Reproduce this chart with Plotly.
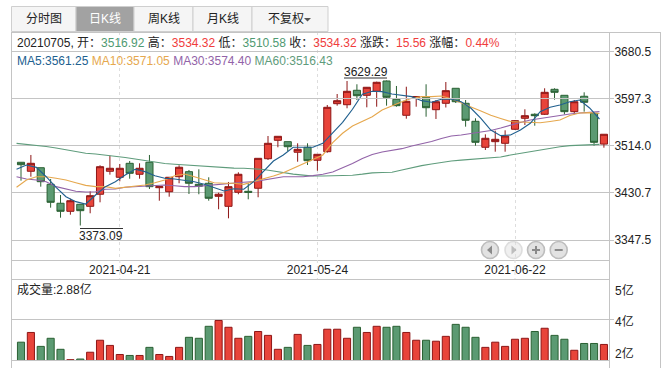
import plotly.graph_objects as go
from plotly.subplots import make_subplots

W, H = 672, 368

opens = [3484.8,3468.9,3475.2,3445.9,3412.4,3398.2,3410.6,3407,3428.3,3468.9,3458.3,3483,3463.6,3484.8,3439.9,3432.8,3459.3,3468.2,3445.9,3447.7,3424.7,3407,3431.8,3433.5,3438.9,3491.1,3523.6,3521.2,3502.5,3511.3,3488.3,3503.5,3588.3,3586.5,3612,3603.1,3610.2,3628.4,3596.1,3567.8,3599.6,3599.6,3577.7,3589,3615.5,3589,3557.2,3511.3,3521.2,3518.3,3543.1,3562.5,3569.6,3569.6,3613.7,3603.1,3574.2,3601.4,3571.3,3516.92]
highs = [3485.3,3497.7,3475.2,3455.3,3427,3420.5,3410.6,3433.5,3479.5,3496.5,3481.8,3487.1,3483,3497.7,3441.7,3458.3,3479.5,3471.2,3472.4,3458.3,3431.1,3450,3467.1,3447.7,3491.8,3531.2,3530.7,3521.2,3518.3,3518.3,3498.9,3586,3605.4,3628.4,3622.6,3617.8,3627.2,3629.29,3619.6,3618.3,3600.7,3622.6,3594.8,3626.6,3615.5,3594.8,3562.5,3534.2,3540.6,3541.3,3559.5,3578.4,3571.3,3615.5,3615.5,3603.1,3594.8,3608.4,3573.1,3534.32]
lows = [3452.3,3459.3,3441.7,3404.6,3386.9,3392.2,3373.09,3394.7,3414.1,3462.9,3451.2,3455.8,3455.8,3437.6,3416.9,3424,3447.7,3428.8,3428.3,3416.9,3401.8,3385.8,3428.3,3419.4,3423,3488.8,3511.3,3504.7,3485.8,3480,3469.9,3501.7,3584.8,3580.2,3594.8,3581.9,3583,3584.8,3583,3561.8,3583,3565.3,3561.3,3581.6,3589.5,3547.7,3514.1,3506.5,3503.5,3503.5,3541.8,3550.7,3549.4,3568.3,3595.4,3569.6,3569.6,3574.2,3514.1,3510.58]
closes = [3480.5,3483,3450.5,3414.1,3398.2,3416.9,3399.3,3425.8,3477,3474.2,3474.2,3465.3,3474.2,3441.7,3441.7,3458.3,3476,3447.7,3442.4,3421.2,3428.3,3441.7,3463.6,3431.8,3491.8,3518.3,3530.7,3512.3,3507.7,3487.6,3498.9,3581.9,3593.6,3610.2,3602.4,3617.3,3626.1,3599.6,3584.8,3592.5,3600.7,3581.2,3591.8,3611.3,3591.8,3559,3520.1,3527.2,3525.4,3531.2,3558.3,3567.1,3567.1,3608.4,3608.4,3574.2,3591.8,3590.8,3520.1,3534.32]
ma5 = [3472.4,3480,3475.9,3459.3,3440.6,3424,3415.2,3411.1,3427,3441.7,3450.5,3462.3,3472.4,3468.2,3461.1,3456.5,3455.3,3452.3,3450.5,3445.9,3440.6,3434.1,3438.1,3437.1,3450.5,3468.2,3487.1,3497.7,3511.3,3511.3,3511.3,3518.3,3536,3555.4,3578.4,3604.9,3610.2,3609.5,3605.4,3603.1,3600.7,3593.6,3590.8,3596.1,3596.6,3591.8,3580.2,3562.5,3541.8,3531.8,3533,3541.8,3553.7,3574.2,3581.9,3586,3591.8,3594.8,3580.7,3561.25]
ma10 = [3440.6,3453.5,3459.3,3459.3,3456.5,3453.5,3448.7,3444.1,3441.7,3441.7,3438.8,3440.6,3442.9,3444.7,3448.7,3453.5,3461.1,3464.1,3459.3,3453.5,3448.7,3447.7,3447.7,3445.9,3450.5,3454.7,3460.6,3466.4,3474.2,3481.3,3488.8,3497.7,3519.4,3536,3548.9,3556.5,3565.3,3577.2,3584.8,3591.8,3597.8,3600.7,3600.7,3601.9,3597.1,3590.4,3582.5,3575.4,3567.8,3562.2,3556.9,3556,3554.7,3554.7,3556.9,3559.5,3567.5,3571.9,3572.4,3571.05]
ma30 = [3459.3,3455.3,3453.5,3450.5,3441.7,3437.1,3433.6,3432.3,3432.8,3437.1,3437.6,3440.6,3441.7,3443.4,3444.7,3444.7,3443.4,3441.7,3441.7,3443.4,3444.7,3446.4,3447.7,3449.5,3450.5,3453.5,3457.6,3459.3,3459.3,3459.3,3461.1,3463.6,3467.6,3474.7,3482.7,3491.5,3498.6,3503,3506,3508.8,3513.6,3517.1,3521.5,3526.8,3531.2,3533,3535.7,3538.3,3541,3545.4,3550.7,3555.1,3559.5,3562.5,3565.3,3567.8,3570.1,3571.9,3573.1,3574.40]
ma60 = [3518.3,3516.6,3514.8,3512.7,3510,3507,3503.9,3500.7,3499.4,3497.7,3495.9,3493.3,3490.6,3487.6,3485,3482.7,3481.3,3480,3478.8,3477.4,3476,3474.7,3474.4,3474.2,3473.8,3472.1,3469.4,3466.4,3463.8,3462,3460.6,3460.6,3460.6,3460.6,3461.8,3463.8,3466.2,3466.8,3467.1,3471.2,3475.2,3478.8,3481.8,3484.8,3487.1,3488.5,3489.7,3491,3492.4,3494.1,3497.7,3500.7,3503,3506,3509.5,3512.3,3514.1,3515.3,3516.2,3516.43]
volumes = [2.95,3.25,2.82,3.07,2.73,2.41,2.43,2.64,3.01,2.85,2.57,2.54,2.54,2.79,2.57,2.51,2.79,3.10,3.07,3.44,3.62,3.41,3.07,3.13,3.28,3.16,2.73,2.79,3.19,2.85,2.88,3.35,3.35,3.07,3.41,3.25,3.44,3.41,3.44,3.25,3.01,3.01,2.98,3.13,3.50,3.41,3.10,2.79,2.95,2.82,3.04,3.07,3.28,3.38,3.16,3.04,2.70,2.91,2.91,2.88]

price_ticks = [3680.5, 3597.3, 3514.0, 3430.7, 3347.5]
price_labels = ["3680.5", "3597.3", "3514.0", "3430.7", "3347.5"]
date_ticks = [10, 30, 50]
date_labels = ["2021-04-21", "2021-05-24", "2021-06-22"]
tabs = ["分时图", "日K线", "周K线", "月K线", "不复权"]
vol_labels = ["5亿", "4亿", "2亿"]

RED, REDL = "#e8443a", "#8e1616"
GRN, GRNL = "#5b9a72", "#2a6032"
TXT = "#222222"
GRID = "#c4c4c4"
FONT = "Liberation Sans, Noto Sans CJK SC, sans-serif"
ma_offset = 0.45

def px(x): return x / W
def py(y): return 1 - y / H

n = len(closes)
idx = list(range(n))
mx = [i - ma_offset for i in idx]

fig = make_subplots(rows=2, cols=1)
fig.add_trace(go.Candlestick(
    x=idx, open=opens, high=highs, low=lows, close=closes, whiskerwidth=0,
    increasing=dict(line=dict(color=REDL, width=1), fillcolor=RED),
    decreasing=dict(line=dict(color=GRNL, width=1), fillcolor=GRN),
    hoverinfo="skip", showlegend=False), row=1, col=1)
for vals, col in [(ma60, "#5f9c7c"), (ma30, "#9263a8"), (ma10, "#e6a84e"), (ma5, "#21608f")]:
    fig.add_trace(go.Scatter(x=mx, y=vals, mode="lines", line=dict(color=col, width=1.15),
                             hoverinfo="skip", showlegend=False), row=1, col=1)
fig.add_trace(go.Bar(
    x=idx, y=volumes, width=0.72,
    marker=dict(color=[RED if c >= o else GRN for o, c in zip(opens, closes)],
                line=dict(color=[REDL if c >= o else GRNL for o, c in zip(opens, closes)], width=1)),
    hoverinfo="skip", showlegend=False), row=2, col=1)

X0, X1 = 12, 609
xrange_ = [(X0 - 21) / 9.88, (X1 - 21) / 9.88]
scale = 1.7666
y_at = lambda y: 3771.48 - scale * y

fig.update_layout(
    width=W, height=H, margin=dict(l=0, r=0, t=0, b=0),
    paper_bgcolor="white", plot_bgcolor="white",
    font=dict(family=FONT, size=12, color=TXT), boxgap=0.28, boxgroupgap=0,
    xaxis=dict(domain=[px(X0), px(X1)], range=xrange_, rangeslider=dict(visible=False),
               tickmode="array", tickvals=date_ticks, ticktext=date_labels,
               showgrid=True, gridcolor="#dddddd", griddash="dot", gridwidth=1,
               ticks="", zeroline=False, showline=False, ticklabelstandoff=1),
    yaxis=dict(domain=[py(260), py(32)], range=[y_at(260), y_at(32)], side="right",
               tickmode="array", tickvals=price_ticks, ticktext=price_labels,
               showgrid=True, gridcolor=GRID, gridwidth=1, zeroline=False,
               ticks="outside", ticklen=4, tickcolor=GRID, showline=False, ticklabelstandoff=-2),
    xaxis2=dict(domain=[px(X0), px(X1)], range=xrange_, showticklabels=False, showgrid=False,
                zeroline=False, ticks=""),
    yaxis2=dict(domain=[py(360), py(279)], range=[2.4, 4.9], side="right", tickmode="array",
                tickvals=[3.65], ticktext=[""], showgrid=True, gridcolor=GRID, gridwidth=1,
                zeroline=False, ticks="outside", ticklen=4, tickcolor=GRID),
)

shapes, ann = [], []

def line(x0, y0, x1, y1, color=GRID, width=1, dash=None):
    shapes.append(dict(type="line", xref="paper", yref="paper", x0=px(x0), y0=py(y0),
                       x1=px(x1), y1=py(y1), line=dict(color=color, width=width, dash=dash or "solid")))

def text(x, y, s, size=12, color=TXT, anchor="left"):
    ann.append(dict(xref="paper", yref="paper", x=px(x), y=py(y), text=s, showarrow=False,
                    xanchor=anchor, yanchor="middle", align=anchor, borderpad=0,
                    font=dict(size=size, color=color, family=FONT)))

# frames
line(12, 32.5, 660, 32.5)
line(12, 51.5, 609, 51.5)
line(11.5, 32, 11.5, 368)
line(609.5, 32, 609.5, 368)
line(660.5, 32, 660.5, 368)
line(12, 98.5, 609, 98.5)
line(12, 260.5, 609, 260.5)
line(12, 279.5, 609, 279.5)
line(12, 360.5, 609, 360.5)
for xv in [119.8, 317.4, 515]:
    line(xv, 260, xv, 279, "#dddddd", 1, "dot")

# tabs
edges = [11.5, 76, 134, 193, 252, 328]
for i, s in enumerate(tabs):
    active = i == 1
    shapes.append(dict(type="rect", xref="paper", yref="paper", x0=px(edges[i]), x1=px(edges[i + 1]),
                       y0=py(31.5), y1=py(6.5), fillcolor="#a2a2a2" if active else "#f5f5f5",
                       line=dict(color="#cfcfcf", width=1)))
    cx = (edges[i] + edges[i + 1]) / 2 - (4 if i == 4 else 0)
    text(cx, 19.5, s, 12, "white" if active else TXT, "center")
shapes.append(dict(type="path", xref="paper", yref="paper",
                   path=f"M {px(304)} {py(18)} L {px(311)} {py(18)} L {px(307.5)} {py(21.5)} Z",
                   fillcolor="#555555", line=dict(width=0)))

# info rows
G = "#4f9a72"; R = "#f03c3c"
sp = lambda c, s: f'<span style="color:{c}">{s}</span>'
text(16, 42.5, "20210705, 开：" + sp(G, "3516.92") + " 高：" + sp(R, "3534.32") + " 低：" + sp(G, "3510.58")
     + " 收：" + sp(R, "3534.32") + " 涨跌：" + sp(R, "15.56") + " 涨幅：" + sp(R, "0.44%"))
text(16, 61, sp("#21608f", "MA5:3561.25") + " " + sp("#e6a84e", "MA10:3571.05") + " "
     + sp("#9263a8", "MA30:3574.40") + " " + sp("#5f9c7c", "MA60:3516.43"))
text(16, 289, "成交量:2.88亿")
for y, s in zip([290, 321, 353], vol_labels):
    text(614, y, s)

# extreme labels
text(365.5, 72, "3629.29", anchor="center")
line(344, 78, 387, 78, "#333333")
text(101, 235.5, "3373.09", anchor="center")
line(80, 228.5, 123, 228.5, "#333333")

# navigation buttons
for cx, op in [(490, 1), (513.5, .5), (536, 1), (558.7, 1)]:
    shapes.append(dict(type="circle", xref="paper", yref="paper", x0=px(cx - 8.5), x1=px(cx + 8.5),
                       y0=py(258.5), y1=py(241.5), fillcolor="#e2e2e2", opacity=op,
                       line=dict(color="#bdbdbd", width=1.6)))
glyph = "#8a8a8a"
shapes.append(dict(type="path", xref="paper", yref="paper",
                   path=f"M {px(492)} {py(245.5)} L {px(492)} {py(254.5)} L {px(487)} {py(250)} Z",
                   fillcolor=glyph, line=dict(width=0)))
shapes.append(dict(type="path", xref="paper", yref="paper", opacity=.5,
                   path=f"M {px(511.5)} {py(245.5)} L {px(511.5)} {py(254.5)} L {px(516.5)} {py(250)} Z",
                   fillcolor=glyph, line=dict(width=0)))
line(532, 250, 540, 250, glyph, 2)
line(536, 246, 536, 254, glyph, 2)
line(554.7, 250, 562.7, 250, glyph, 2)

fig.update_layout(shapes=shapes, annotations=ann)
fig.write_html("out.html", config={"displayModeBar": False},
               post_script="document.body.style.margin='0';document.body.style.overflow='hidden';")
